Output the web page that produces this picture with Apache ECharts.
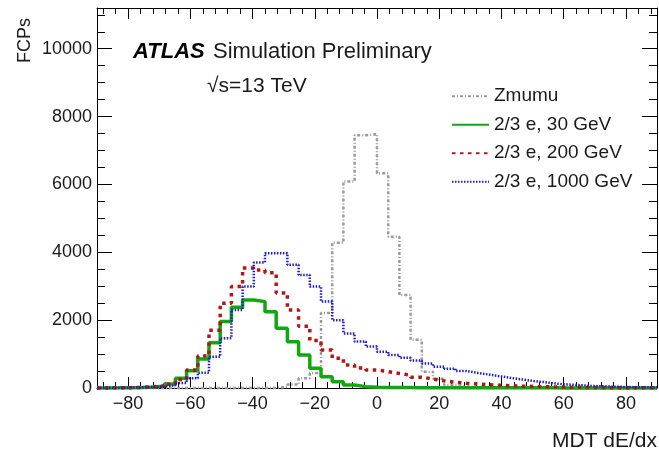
<!DOCTYPE html>
<html>
<head>
<meta charset="utf-8">
<script src="https://cdn.jsdelivr.net/npm/echarts@6/dist/echarts.min.js"></script>
<style>
  html, body { margin: 0; padding: 0; background: #fff; }
  #chart { width: 659px; height: 455px; }
</style>
</head>
<body>
<div id="chart"></div>
<script>
// binning of the histograms: 50 bins from -90 to 90
const binLow = -90
const binWidth = 3.6

const zmumu = [0, 0, 0, 0, 0, 0, 0, 0, 0, 0, 0, 0, 0, 0, 0, 0,
  30, 100, 290, 440, 2210, 4280, 6090, 7450, 7480, 6330, 4460, 2740, 1420, 480, 270, 90, 40, 15,
  0, 0, 0, 0, 0, 0, 0, 0, 0, 0, 0, 0, 0, 0, 0, 0]
const e30 = [3, 5, 8, 14, 28, 55, 118, 285, 511, 855,
  1337, 1957, 2380, 2596, 2546, 2251, 1760, 1366, 974, 580,
  335, 187, 88, 40, 25, 18, 14, 12, 10, 9,
  8, 7, 7, 6, 6, 5, 5, 5, 4, 4,
  4, 3, 3, 3, 3, 2, 2, 2, 2, 2]
const e200 = [3, 6, 10, 18, 35, 60, 120, 250, 530, 940,
  1700, 2500, 2990, 3540, 3480, 3400, 2800, 2300, 1820, 1400,
  1120, 875, 680, 590, 530, 480, 430, 380, 320, 265,
  210, 170, 140, 115, 95, 80, 65, 55, 45, 38,
  30, 25, 20, 16, 13, 10, 8, 6, 5, 4]
const e1000 = [5, 8, 12, 18, 28, 45, 80, 150, 290, 450,
  920, 1470, 2300, 2990, 3700, 3970, 3970, 3630, 3330, 2990,
  2550, 2000, 1610, 1370, 1220, 1070, 970, 890, 810, 720,
  630, 570, 500, 445, 395, 345, 295, 250, 205, 170,
  130, 105, 85, 65, 50, 40, 32, 25, 20, 15]

const xMajorTicks = [-80, -60, -40, -20, 0, 20, 40, 60, 80]
const yMajorTicks = [0, 2000, 4000, 6000, 8000, 10000]

const xMinorTicks = []
for (let v = -88; v <= 88; v += 4) {
  if (v % 20 !== 0) xMinorTicks.push(v)
}
const yMinorTicks = []
for (let v = 500; v <= 11000; v += 500) {
  if (v % 2000 !== 0) yMinorTicks.push(v)
}

// histogram -> points at bin edges, drawn with step 'end'
function toSteps (vals) {
  const pts = vals.map((v, i) => [binLow + i * binWidth, v])
  pts.push([binLow + vals.length * binWidth, vals[vals.length - 1]])
  return pts
}

const font = 'Liberation Sans, Arial, Helvetica, sans-serif'
const txt = '#1a1a1a'

function xAx (pos, ticks, len, major) {
  return {
    type: 'value',
    position: pos,
    min: -90,
    max: 90,
    axisLine: { show: major, onZero: false, lineStyle: { color: '#000', width: 1 } },
    axisTick: { show: true, inside: true, length: len, customValues: ticks, lineStyle: { color: '#000', width: 1 } },
    axisLabel: {
      show: major && pos === 'bottom',
      customValues: ticks,
      margin: 7,
      color: txt,
      fontSize: 18,
      fontFamily: font,
      formatter: function (v) { return v < 0 ? '\u2212' + Math.abs(v) : String(v) }
    },
    splitLine: { show: false }
  }
}
function yAx (pos, ticks, len, major) {
  return {
    type: 'value',
    position: pos,
    min: 0,
    max: 11200,
    axisLine: { show: major, onZero: false, lineStyle: { color: '#000', width: 1 } },
    axisTick: { show: true, inside: true, length: len, customValues: ticks, lineStyle: { color: '#000', width: 1 } },
    axisLabel: {
      show: major && pos === 'left',
      customValues: ticks,
      margin: 5,
      color: txt,
      fontSize: 18,
      fontFamily: font,
      formatter: function (v) { return String(v) }
    },
    splitLine: { show: false }
  }
}

const option = {
  animation: false,
  backgroundColor: '#fff',
  grid: { left: 97, right: 2, top: 8, bottom: 67 },
  xAxis: [
    xAx('bottom', xMajorTicks, 11, true),
    xAx('bottom', xMinorTicks, 6, false),
    xAx('top', xMajorTicks, 11, true),
    xAx('top', xMinorTicks, 6, false)
  ],
  yAxis: [
    yAx('left', yMajorTicks, 15, true),
    yAx('left', yMinorTicks, 8, false),
    yAx('right', yMajorTicks, 15, true),
    yAx('right', yMinorTicks, 8, false)
  ],
  legend: {
    orient: 'vertical',
    left: 451,
    top: 82,
    padding: 0,
    itemGap: 0,
    itemWidth: 37,
    itemHeight: 14,
    itemStyle: { opacity: 0 },
    textStyle: { fontSize: 19, fontFamily: font, color: txt, lineHeight: 28.5 },
    data: ['Zmumu', '2/3 e, 30 GeV', '2/3 e, 200 GeV', '2/3 e, 1000 GeV']
  },
  graphic: [
    { type: 'text', x: 133, y: 52, style: { text: 'ATLAS', font: 'italic bold 22px ' + font, fill: '#000', verticalAlign: 'middle' } },
    { type: 'text', x: 213, y: 52, style: { text: 'Simulation Preliminary', font: '22px ' + font, fill: txt, verticalAlign: 'middle' } },
    { type: 'text', x: 207, y: 86, style: { text: '\u221As=13 TeV', font: '21px ' + font, fill: txt, verticalAlign: 'middle' } },
    { type: 'text', x: 25, y: 18, rotation: Math.PI / 2, style: { text: 'FCPs', font: '18px ' + font, fill: txt, align: 'right', verticalAlign: 'middle' } },
    { type: 'text', x: 657, y: 441, style: { text: 'MDT dE/dx', font: '21px ' + font, fill: txt, align: 'right', verticalAlign: 'middle' } }
  ],
  series: [
    {
      name: 'Zmumu',
      type: 'line',
      step: 'end',
      symbol: 'none',
      clip: false,
      data: toSteps(zmumu),
      lineStyle: { color: '#9a9a9a', width: 2.5, type: [3, 2, 1, 2] },
      itemStyle: { color: '#9a9a9a' }
    },
    {
      name: '2/3 e, 30 GeV',
      type: 'line',
      step: 'end',
      symbol: 'none',
      clip: false,
      data: toSteps(e30),
      lineStyle: { color: '#10a810', width: 3.5 },
      itemStyle: { color: '#10a810' }
    },
    {
      name: '2/3 e, 200 GeV',
      type: 'line',
      step: 'end',
      symbol: 'none',
      clip: false,
      data: toSteps(e200),
      lineStyle: { color: '#b01818', width: 3.5, type: [3.5, 4.5] },
      itemStyle: { color: '#b01818' }
    },
    {
      name: '2/3 e, 1000 GeV',
      type: 'line',
      step: 'end',
      symbol: 'none',
      clip: false,
      data: toSteps(e1000),
      lineStyle: { color: '#1c1cc8', width: 2.5, type: [1.5, 1.5] },
      itemStyle: { color: '#1c1cc8' }
    }
  ]
}

const chart = echarts.init(document.getElementById('chart'))
chart.setOption(option)
</script>
</body>
</html>
